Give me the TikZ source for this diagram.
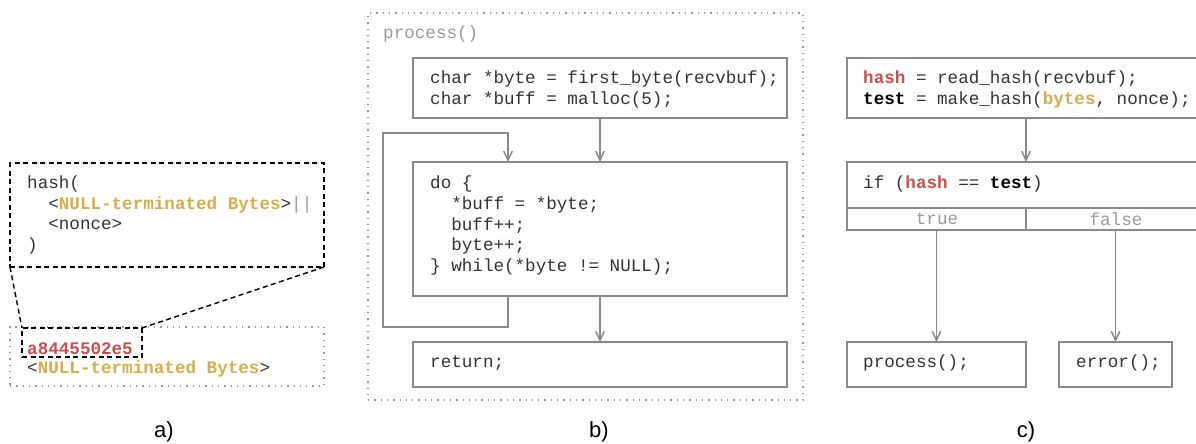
\documentclass[tikz,border=0pt]{standalone}
\usepackage{fontspec}
\setmainfont{Liberation Sans}
\setmonofont{Liberation Mono}
\usetikzlibrary{arrows.meta}
\definecolor{hred}{HTML}{C8504F}
\definecolor{hgold}{HTML}{D4AF4F}
\definecolor{lgray}{HTML}{8A8A8A}
\definecolor{tgray}{HTML}{9A9A9A}
\definecolor{ink}{HTML}{333333}
\newcommand{\redb}[1]{\textcolor{hred}{\textbf{#1}}}
\newcommand{\goldb}[1]{\textcolor{hgold}{\textbf{#1}}}
\newcommand{\blkb}[1]{\textcolor{black}{\textbf{#1}}}
\newcommand{\ind}{\phantom{hh}}
\begin{document}
\begin{tikzpicture}[x=1pt,y=-1pt,
  box/.style={draw=lgray, line width=1.6pt, inner sep=0pt, outer sep=0pt, rectangle},
  dbox/.style={draw=black, line width=1.4pt, dash pattern=on 5pt off 3.5pt, inner sep=0pt, outer sep=0pt, rectangle},
  obox/.style={draw=tgray, line width=1.4pt, dash pattern=on 1.3pt off 5pt, inner sep=0pt, outer sep=0pt, rectangle},
  code/.style={inner sep=0pt, anchor=west, align=left, text=ink, font=\ttfamily\fontsize{17.6}{20.8}\selectfont},
  gcode/.style={code, text=tgray},
  flow/.style={draw=lgray, line width=1.6pt, -{Straight Barb[length=9pt,width=8.5pt,line width=1.5pt]}},
  caplabel/.style={inner sep=0pt, font=\fontsize{22}{24}\selectfont, text=black}]
\path[clip, use as bounding box] (0,0) rectangle (1196,444);

% ---------------- panel a ----------------
\node[dbox, minimum width=314pt, minimum height=104pt] (za) at (167,215) {};
\node[code] (ta) at (27,215) {hash(\\\ind <\goldb{NULL-terminated Bytes}>\textcolor{tgray}{||}\\\ind <nonce>\\)};
\node[obox, minimum width=314pt, minimum height=59pt] (zo) at (167,356.5) {};
\node[dbox, minimum width=120pt, minimum height=29pt] (zs) at (82,342.5) {};
\node[code] (thash) at (27,348.5) {\redb{a8445502e5}};
\node[code] (tnull) at (27,369) {<\goldb{NULL-terminated Bytes}>};
\draw[black, line width=1.4pt, dash pattern=on 5pt off 3.5pt] (za.south west) -- (zs.north west);
\draw[black, line width=1.4pt, dash pattern=on 5pt off 3.5pt] (za.south east) -- (zs.north east);
\node[caplabel] (la) at (164,432) {a)};

% ---------------- panel b ----------------
\node[obox, minimum width=435pt, minimum height=387pt] (pout) at (585.5,206.5) {};
\node[gcode] (pname) at (383,34) {process()};
\node[box, minimum width=374pt, minimum height=60pt] (pb1) at (600,88) {};
\node[code] (tb1) at (430,89.5) {char *byte = first\_byte(recvbuf);\\char *buff = malloc(5);};
\node[box, minimum width=374pt, minimum height=134pt] (pb2) at (600,229) {};
\node[code] (tb2) at (430,225.5) {do \{\\\ind *buff = *byte;\\\ind buff++;\\\ind byte++;\\\} while(*byte != NULL);};
\node[box, minimum width=374pt, minimum height=45pt] (pb3) at (600,364.5) {};
\node[code] (tb3) at (430,363) {return;};
\draw[flow] (pb1.south) -- (pb2.north);
\draw[flow] (pb2.south) -- (pb3.north);
\coordinate (lx) at (508,0);
\coordinate (lbot) at (383,327);
\coordinate (ltop) at (508,133);
\draw[flow] (pb2.south -| lx) |- (lbot) |- (ltop) -- (pb2.north -| lx);
\node[caplabel] (lb) at (599,432) {b)};

% ---------------- panel c ----------------
\node[box, minimum width=353pt, minimum height=60pt] (cb1) at (1023.5,88) {};
\node[code] (tc1) at (863,89.5) {\redb{hash} = read\_hash(recvbuf);\\\blkb{test} = make\_hash(\goldb{bytes}, nonce);};
\node[box, minimum width=353pt, minimum height=68pt] (cb2) at (1023.5,196) {};
\coordinate (cdl) at (847,208);
\coordinate (cdr) at (1200,208);
\coordinate (cmid) at (1026,0);
\draw[lgray, line width=1.6pt] (cdl) -- (cdr);
\draw[lgray, line width=1.6pt] (cmid |- cdl) -- (cmid |- cb2.south);
\node[code] (tif) at (863,184) {if (\redb{hash} == \blkb{test})};
\node[gcode, anchor=center] (ttrue) at (937,219) {true};
\node[gcode, anchor=center] (tfalse) at (1116,219) {false};
\draw[flow] (cb1.south -| cmid) -- (cb2.north -| cmid);
\node[box, minimum width=179pt, minimum height=45pt] (cproc) at (936.5,364.5) {};
\node[code] (tproc) at (863,363) {process();};
\node[box, minimum width=113pt, minimum height=45pt] (cerr) at (1115.5,364.5) {};
\node[code] (terr) at (1076,363) {error();};
\draw[flow] (cproc.north |- cb2.south) -- (cproc.north);
\draw[flow] (cerr.north |- cb2.south) -- (cerr.north);
\node[caplabel] (lc) at (1026,432) {c)};
\end{tikzpicture}
\end{document}
